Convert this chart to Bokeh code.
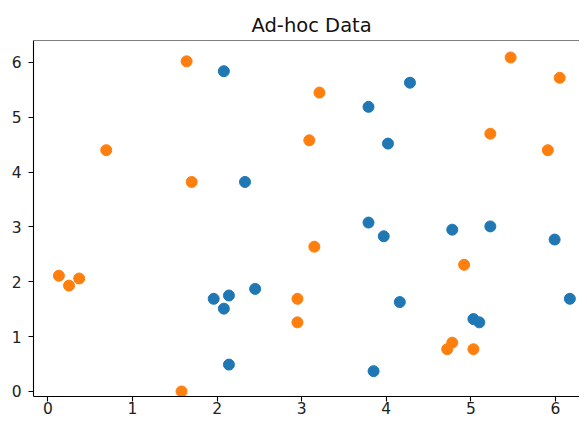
from bokeh.plotting import figure
from bokeh.models import Range1d, FixedTicker, Span
from bokeh.embed import file_html
from bokeh.resources import INLINE

blue_x = [2.08, 2.33, 4.28, 3.79, 4.02, 1.96, 2.14, 2.08, 2.45, 2.14,
          3.79, 3.97, 4.78, 5.23, 5.99, 4.16, 6.17, 5.03, 5.10, 3.85]
blue_y = [5.84, 3.82, 5.63, 5.19, 4.52, 1.69, 1.75, 1.51, 1.87, 0.49,
          3.08, 2.83, 2.95, 3.01, 2.77, 1.63, 1.69, 1.32, 1.26, 0.37]
orange_x = [1.64, 0.69, 1.70, 5.47, 6.05, 3.21, 3.09, 5.23, 5.91, 0.13,
            0.25, 0.37, 1.58, 2.95, 2.95, 3.15, 4.92, 4.78, 4.72, 5.03]
orange_y = [6.02, 4.40, 3.82, 6.09, 5.72, 5.45, 4.58, 4.70, 4.40, 2.11,
            1.93, 2.06, 0.00, 1.69, 1.26, 2.64, 2.31, 0.89, 0.77, 0.77]
x_ticks = [0, 1, 2, 3, 4, 5, 6]
y_ticks = [0, 1, 2, 3, 4, 5, 6]
title_text = "Ad-hoc Data"

FONT = "DejaVu Sans"
Y_TOP = 6.40

p = figure(width=579, height=416, output_backend="svg", toolbar_location=None,
           x_range=Range1d(-0.17, 6.284), y_range=Range1d(-0.092, Y_TOP),
           min_border_left=33, min_border_right=0, min_border_top=40,
           min_border_bottom=0, title=title_text)

p.title.align = "left"
p.title.offset = 218
p.title.text_font = FONT
p.title.text_font_size = "19.5px"
p.title.text_font_style = "normal"
p.title.text_color = "#111111"
p.title.standoff = 8

p.outline_line_color = None
p.xgrid.visible = False
p.ygrid.visible = False
p.background_fill_color = "white"
p.border_fill_color = "white"

for ax, ticks in ((p.xaxis[0], x_ticks), (p.yaxis[0], y_ticks)):
    ax.ticker = FixedTicker(ticks=ticks)
    ax.minor_tick_line_color = None
    ax.major_tick_in = 0
    ax.major_tick_out = 5
    ax.major_tick_line_color = "black"
    ax.major_tick_line_width = 1.1
    ax.axis_line_color = "black"
    ax.axis_line_width = 1.1
    ax.major_label_text_font = FONT
    ax.major_label_text_font_size = "15.5px"
    ax.major_label_text_color = "#222222"

p.yaxis[0].major_label_standoff = 7
p.xaxis[0].major_label_standoff = 0

top_spine = Span(location=Y_TOP, dimension="width", line_color="black", line_width=1.1)
p.add_layout(top_spine)

p.scatter(blue_x, blue_y, size=11, fill_color="#1f77b4", line_color="#1f77b4")
p.scatter(orange_x, orange_y, size=11, fill_color="#ff7f0e", line_color="#ff7f0e")

open("out.html", "w").write(file_html(p, INLINE))
